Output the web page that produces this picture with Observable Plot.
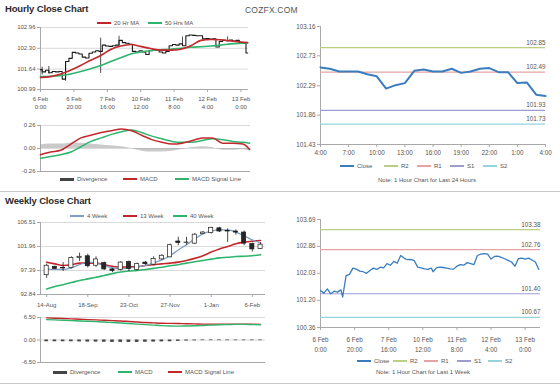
<!DOCTYPE html>
<html>
<head>
<meta charset="utf-8">
<script src="https://cdn.jsdelivr.net/npm/d3@7"></script>
<script src="https://cdn.jsdelivr.net/npm/@observablehq/plot@0.6"></script>
<style>
html,body{margin:0;padding:0;background:#fff;}
#root{position:relative;width:560px;height:385px;overflow:hidden;background:#fff;font-family:"Liberation Sans",Arial,sans-serif;}
.title{position:absolute;font-weight:bold;font-size:9.5px;letter-spacing:-0.15px;color:#2b2b2b;white-space:nowrap;line-height:12px;}
.leg{position:absolute;font-size:6px;color:#555;white-space:nowrap;line-height:8px;}
.note{position:absolute;font-size:6px;color:#555;white-space:nowrap;line-height:8px;transform:translateX(-50%);}
.sep{position:absolute;left:0;width:560px;height:1px;background:#c8c8c8;}
.brand{position:absolute;font-size:8.5px;color:#555;letter-spacing:0.2px;white-space:nowrap;line-height:10px;}
</style>
</head>
<body>
<div id="root">
  <div class="title" style="left:5px;top:3px">Hourly Close Chart</div>
  <div class="title" style="left:5px;top:195px">Weekly Close Chart</div>
  <div class="brand" style="left:245px;top:5px">COZFX.COM</div>
  <div class="sep" style="top:191px"></div>
  <div class="sep" style="top:383px"></div>
</div>
<script>
// ---------------- DATA ----------------
// Hourly chart (index = trading hour since 6 Feb 0:00)
const hrTicks = [0, 20, 40, 60, 80, 100, 120];
const hrTickLabels = ["6 Feb\n0:00", "6 Feb\n20:00", "7 Feb\n16:00", "10 Feb\n12:00", "11 Feb\n8:00", "12 Feb\n4:00", "13 Feb\n0:00"];
const hrPriceTicks = [102.96, 102.30, 101.64, 100.99];
const hrCloseStep = 2;
const hrClose = [101.62,101.55,101.60,101.52,101.56,101.55,101.56,101.32,101.88,101.98,102.17,102.15,102.12,102.02,101.99,102.14,102.18,102.22,102.20,102.40,102.37,102.36,102.38,102.40,102.55,102.48,102.46,102.43,102.20,102.18,102.22,102.18,102.10,102.22,102.26,102.24,102.18,102.15,102.20,102.38,102.42,102.40,102.44,102.38,102.70,102.72,102.71,102.70,102.70,102.60,102.61,102.59,102.60,102.34,102.52,102.55,102.54,102.56,102.53,102.55,102.48,102.45,102.15];
const hrSpikeIdx = [1, 5, 15, 36, 47, 85, 112];
const hrSpikeLow = [101.45, 101.48, 101.25, 101.50, 102.38, 102.36, 102.50];
const hrSpikeHigh = [101.70, 101.72, 101.85, 102.62, 102.68, 102.66, 102.66];
const hrMaIdx = [0,6,12,18,24,30,36,42,48,54,60,66,72,78,84,90,96,102,108,114,120,124];
const hrMa20 = [101.37,101.40,101.48,101.60,101.75,101.92,102.07,102.26,102.37,102.42,102.36,102.29,102.24,102.24,102.27,102.38,102.55,102.58,102.57,102.53,102.50,102.48];
const hrMa50 = [101.40,101.41,101.43,101.48,101.56,101.65,101.75,101.88,102.00,102.12,102.18,102.23,102.25,102.27,102.30,102.33,102.35,102.37,102.40,102.44,102.46,102.47];
const hrMacdTicks = [0.26, 0, -0.26];
const hrMacd = [-0.07,-0.04,-0.02,0.05,0.12,0.15,0.18,0.20,0.22,0.20,0.15,0.10,0.07,0.05,0.06,0.09,0.12,0.12,0.06,0.06,0.05,-0.01];
const hrSignal = [-0.11,-0.09,-0.07,-0.04,0.02,0.08,0.12,0.16,0.19,0.21,0.18,0.14,0.11,0.08,0.07,0.07,0.09,0.11,0.10,0.08,0.07,0.06];
const hrDiv = [0.04,0.05,0.05,0.06,0.06,0.05,0.04,0.03,0.02,0.00,-0.03,-0.04,-0.04,-0.03,-0.01,0.01,0.02,0.01,-0.02,-0.02,-0.01,-0.03];

// Last 24 hours
const h24Labels = ["4:00","7:00","10:00","13:00","16:00","19:00","22:00","1:00","4:00"];
const h24PriceTicks = [103.16, 102.73, 102.29, 101.86, 101.43];
const h24Close = [102.56,102.54,102.50,102.50,102.50,102.46,102.43,102.25,102.30,102.33,102.51,102.53,102.50,102.50,102.54,102.48,102.50,102.54,102.55,102.49,102.49,102.33,102.34,102.16,102.14];
const levelNames = ["R2", "R1", "S1", "S2"];
const levelColors = ["#bccd84", "#e6a3a3", "#9d9dd2", "#93d4de"];
const h24Levels = [102.85, 102.49, 101.93, 101.73];

// Last 1 week, hourly
const wkHrPriceTicks = [103.69, 102.86, 102.03, 101.20, 100.36];
const wkHrIdx = [0,2,4,6,8,10,12,13,15,17,19,21,23,25,27,29,31,33,35,37,39,41,43,45,47,49,51,53,55,57,59,61,63,65,66,68,70,72,74,76,78,80,82,84,86,88,90,92,94,96,98,100,102,104,106,108,110,112,114,116,118,120,122,124,126,128];
const wkHrClose = [101.50,101.42,101.55,101.40,101.48,101.45,101.52,101.30,101.96,102.00,102.19,102.16,102.10,102.08,102.03,102.12,102.19,102.15,102.22,102.20,102.33,102.28,102.40,102.34,102.58,102.50,102.45,102.46,102.42,102.22,102.20,102.17,102.15,102.19,102.08,102.20,102.22,102.21,102.19,102.17,102.16,102.25,102.30,102.28,102.36,102.33,102.30,102.58,102.62,102.64,102.62,102.47,102.55,102.56,102.52,102.48,102.43,102.38,102.25,102.48,102.50,102.47,102.50,102.44,102.38,102.15];
const wkHrLevels = [103.38, 102.76, 101.40, 100.67];

// Weekly chart (index = week since 14-Aug)
const wkTicks = [0, 5, 10, 15, 20, 25];
const wkTickLabels = ["14-Aug", "18-Sep", "23-Oct", "27-Nov", "1-Jan", "6-Feb"];
const wkPriceTicks = [106.51, 101.96, 97.39, 92.84];
const wkOpen  = [96.5,98.1,97.8,97.9,99.8,100.1,98.3,98.8,97.6,97.5,99.0,97.5,98.9,98.5,99.5,99.9,102.9,102.6,102.5,104.3,104.5,105.4,104.9,104.8,104.6,102.4,101.5];
const wkClose = [98.3,97.7,97.9,99.8,100.0,98.2,99.5,97.6,97.3,98.9,97.7,98.6,98.6,99.6,100.2,102.2,102.6,102.7,104.2,104.6,105.5,104.8,104.8,104.6,102.5,101.4,102.3];
const wkHigh  = [98.6,98.2,98.9,100.0,100.7,100.5,100.0,99.0,97.8,99.1,99.2,98.8,99.1,100.0,100.4,102.4,103.7,103.7,104.4,104.8,105.6,105.6,105.3,105.1,104.9,102.6,102.7];
const wkLow   = [95.9,97.6,97.2,97.7,99.1,97.9,98.0,97.4,97.0,97.3,97.2,97.3,98.4,98.3,99.4,99.8,102.1,102.2,102.3,104.2,104.3,104.6,102.7,104.1,102.1,100.9,101.4];
const wk4  = [97.71,97.6,97.6,97.9,98.5,98.98,98.8,98.35,97.9,97.7,97.9,98.03,98.35,98.8,99.4,100.2,101.3,102.3,103.4,104.36,104.87,105.1,105.1,104.7,104.0,103.2,102.6];
const wk13 = [98.98,98.66,98.35,98.5,98.8,98.8,98.8,98.5,98.2,98.03,98.1,98.1,98.35,98.5,98.66,98.8,98.98,99.3,99.7,100.2,100.9,101.5,101.96,102.46,102.78,102.97,103.1];
const wk40 = [93.9,94.35,94.7,95.1,95.5,95.8,96.1,96.45,96.8,97.1,97.3,97.4,97.6,97.8,98.0,98.3,98.5,98.8,99.05,99.3,99.55,99.8,99.9,100.05,100.1,100.2,100.4];
const wkMacdTicks = [6.5, 0, -6.5];
const wkMacd   = [5.9,5.8,5.7,5.6,5.5,5.4,5.3,5.2,5.05,4.9,4.75,4.6,4.45,4.3,4.15,4.05,4.0,4.05,4.1,4.2,4.3,4.4,4.45,4.5,4.5,4.45,4.4];
const wkSignal = [6.4,6.3,6.2,6.1,6.0,5.9,5.8,5.7,5.6,5.5,5.35,5.2,5.05,4.95,4.85,4.8,4.75,4.7,4.65,4.6,4.6,4.6,4.6,4.6,4.6,4.55,4.5];
const wkDiv    = [-0.5,-0.5,-0.5,-0.5,-0.55,-0.6,-0.6,-0.65,-0.7,-0.7,-0.7,-0.7,-0.65,-0.6,-0.55,-0.5,-0.4,-0.3,-0.25,-0.2,-0.2,-0.2,-0.2,-0.2,-0.2,-0.2,-0.2];

// ---------------- HELPERS ----------------
const root = document.getElementById("root");
const FONT = '"Liberation Sans", Arial, sans-serif';
const st = {fontFamily: FONT, fontSize: "6px", color: "#555", background: "transparent", overflow: "visible"};
const GRID = "#dadada", AXIS = "#a8a8a8";
const RED = "#c3272b", GREEN = "#2fb46e", BLUE4 = "#7f9fc6", CLOSEBLUE = "#3a7dbf";

function place(svg, left, top) {
  svg.style.position = "absolute";
  svg.style.left = left + "px";
  svg.style.top = top + "px";
  root.appendChild(svg);
}
function yAx(ticks, fmt, o = {}) {
  return Plot.axisY({ticks, tickFormat: fmt, tickSize: 3, tickPadding: 2, label: null, stroke: AXIS, fill: "#555", fontSize: 6, ...o});
}
function xAx(ticks, labels, o = {}) {
  const m = new Map(ticks.map((t, i) => [t, labels[i]]));
  return Plot.axisX({ticks, tickFormat: d => m.get(d), tickSize: 3, tickPadding: 3, label: null, stroke: AXIS, fill: "#555", fontSize: 6, ...o});
}
function legItem(x, y, color, label, thick) {
  const sw = document.createElement("div");
  const h = thick ? 3 : 1.5;
  sw.style.cssText = `position:absolute;left:${x}px;top:${y - h / 2}px;width:14px;height:${h}px;background:${color}`;
  root.appendChild(sw);
  const t = document.createElement("div");
  t.className = "leg";
  t.textContent = label;
  t.style.left = (x + 17) + "px";
  t.style.top = (y - 4) + "px";
  root.appendChild(t);
}
function note(cx, y, text) {
  const t = document.createElement("div");
  t.className = "note";
  t.textContent = text;
  t.style.left = cx + "px";
  t.style.top = (y - 4) + "px";
  root.appendChild(t);
}

// ---------------- TABLES ----------------
const hrCloseData = hrClose.map((v, k) => ({i: k * hrCloseStep, v}));
const hrSpikes = hrSpikeIdx.map((i, k) => ({i, lo: hrSpikeLow[k], hi: hrSpikeHigh[k]}));
const hrMa = hrMaIdx.map((i, k) => ({i, ma20: hrMa20[k], ma50: hrMa50[k], macd: hrMacd[k], sig: hrSignal[k], div: hrDiv[k]}));
const h24Data = h24Close.map((v, i) => ({i, v}));
const h24Lv = levelNames.map((n, k) => ({n, v: h24Levels[k], c: levelColors[k]}));
const wkHrData = wkHrIdx.map((i, k) => ({i, v: wkHrClose[k]}));
const wkHrLv = levelNames.map((n, k) => ({n, v: wkHrLevels[k], c: levelColors[k]}));
const wk = wkOpen.map((o, i) => ({i, o, c: wkClose[i], h: wkHigh[i], l: wkLow[i], m4: wk4[i], m13: wk13[i], m40: wk40[i], macd: wkMacd[i], sig: wkSignal[i], div: wkDiv[i]}));

// ---------------- P1: hourly price ----------------
const hrX = [0, 124.5];
place(Plot.plot({
  width: 262, height: 95, marginLeft: 40, marginRight: 14, marginTop: 7, marginBottom: 26,
  style: st,
  x: {domain: hrX, axis: null},
  y: {domain: [hrPriceTicks[3], hrPriceTicks[0]], axis: null},
  marks: [
    Plot.ruleY(hrPriceTicks.slice(0, 3), {stroke: GRID}),
    Plot.ruleY([hrPriceTicks[3]], {stroke: AXIS}),
    Plot.ruleX([hrX[0]], {stroke: AXIS}),
    yAx(hrPriceTicks, d => d.toFixed(2)),
    xAx(hrTicks, hrTickLabels, {lineHeight: 1.35}),
    Plot.ruleX(hrSpikes, {x: "i", y1: "lo", y2: "hi", stroke: "#222", strokeWidth: 0.8}),
    Plot.line(hrCloseData, {x: "i", y: "v", curve: "step", stroke: "#1a1a1a", strokeWidth: 1.1}),
    Plot.line(hrMa, {x: "i", y: "ma50", curve: "monotone-x", stroke: GREEN, strokeWidth: 1.6}),
    Plot.line(hrMa, {x: "i", y: "ma20", curve: "monotone-x", stroke: RED, strokeWidth: 1.6})
  ]
}), 0, 20);
legItem(97, 23, RED, "20 Hr MA");
legItem(148, 23, GREEN, "50 Hrs MA");

// ---------------- P2: hourly MACD ----------------
place(Plot.plot({
  width: 262, height: 60, marginLeft: 40, marginRight: 12, marginTop: 10, marginBottom: 4,
  style: st,
  x: {domain: hrX, axis: null},
  y: {domain: [hrMacdTicks[2], hrMacdTicks[0]], axis: null},
  marks: [
    Plot.ruleY(hrMacdTicks.slice(0, 2), {stroke: GRID}),
    Plot.ruleY([hrMacdTicks[2]], {stroke: AXIS}),
    Plot.ruleX([hrX[0]], {stroke: AXIS}),
    yAx(hrMacdTicks, d => d.toFixed(2)),
    Plot.areaY(hrMa, {x: "i", y: "div", curve: "monotone-x", fill: "#9e9e9e", fillOpacity: 0.55}),
    Plot.line(hrMa, {x: "i", y: "sig", curve: "monotone-x", stroke: GREEN, strokeWidth: 1.5}),
    Plot.line(hrMa, {x: "i", y: "macd", curve: "monotone-x", stroke: RED, strokeWidth: 1.5})
  ]
}), 0, 115);
legItem(60, 179, "#444", "Divergence", true);
legItem(123, 179, RED, "MACD");
legItem(175, 179, GREEN, "MACD Signal Line");

// ---------------- P3: last 24 hours ----------------
place(Plot.plot({
  width: 280, height: 148, marginLeft: 40, marginRight: 15, marginTop: 11, marginBottom: 19,
  style: st,
  color: {type: "identity"},
  x: {domain: [0, 24], axis: null},
  y: {domain: [h24PriceTicks[4], h24PriceTicks[0]], axis: null},
  marks: [
    Plot.ruleY([h24PriceTicks[4]], {stroke: AXIS}),
    Plot.ruleX([0], {stroke: AXIS}),
    yAx(h24PriceTicks, d => d.toFixed(2), {fontSize: 6.3}),
    xAx(d3.range(0, 25, 3), h24Labels, {fontSize: 6.3}),
    Plot.ruleY(h24Lv, {y: "v", stroke: "c", strokeWidth: 1.2}),
    Plot.text(h24Lv, {y: "v", text: d => d.v.toFixed(2), frameAnchor: "right", textAnchor: "end", dy: -5, fill: "#555", fontSize: 6.3}),
    Plot.line(h24Data, {x: "i", y: "v", stroke: CLOSEBLUE, strokeWidth: 2})
  ]
}), 280, 15);
legItem(340, 166, CLOSEBLUE, "Close");
legItem(384, 166, levelColors[0], "R2");
legItem(417, 166, levelColors[1], "R1");
legItem(450, 166, levelColors[2], "S1");
legItem(483, 166, levelColors[3], "S2");
note(427, 180, "Note: 1 Hour Chart for Last 24 Hours");

// ---------------- P4: last week hourly ----------------
const wkHrX = [0, 129];
place(Plot.plot({
  width: 280, height: 145, marginLeft: 40, marginRight: 20, marginTop: 9, marginBottom: 28,
  style: st,
  color: {type: "identity"},
  x: {domain: wkHrX, axis: null},
  y: {domain: [wkHrPriceTicks[4], wkHrPriceTicks[0]], axis: null},
  marks: [
    Plot.ruleY([wkHrPriceTicks[4]], {stroke: AXIS}),
    Plot.ruleX([wkHrX[0]], {stroke: AXIS}),
    yAx(wkHrPriceTicks, d => d.toFixed(2), {fontSize: 6.3}),
    xAx(hrTicks, hrTickLabels, {fontSize: 6.3, tickPadding: 5, lineHeight: 1.5}),
    Plot.ruleY(wkHrLv, {y: "v", stroke: "c", strokeWidth: 1.2}),
    Plot.text(wkHrLv, {y: "v", text: d => d.v.toFixed(2), frameAnchor: "right", textAnchor: "end", dy: -5, fill: "#555", fontSize: 6.3}),
    Plot.line(wkHrData, {x: "i", y: "v", stroke: CLOSEBLUE, strokeWidth: 1.3})
  ]
}), 280, 210);
legItem(357, 361, CLOSEBLUE, "Close");
legItem(393, 361, levelColors[0], "R2");
legItem(424, 361, levelColors[1], "R1");
legItem(457, 361, levelColors[2], "S1");
legItem(488, 361, levelColors[3], "S2");
note(423, 372, "Note: 1 Hour Chart for Last 1 Week");

// ---------------- P5: weekly price ----------------
const wkX = [-0.75, 26.6];
place(Plot.plot({
  width: 280, height: 95, marginLeft: 40, marginRight: 15, marginTop: 7, marginBottom: 16,
  style: st,
  color: {type: "identity"},
  x: {domain: wkX, axis: null},
  y: {domain: [wkPriceTicks[3], wkPriceTicks[0]], axis: null},
  marks: [
    Plot.ruleY(wkPriceTicks.slice(0, 3), {stroke: GRID}),
    Plot.ruleY([wkPriceTicks[3]], {stroke: AXIS}),
    Plot.ruleX([wkX[0]], {stroke: AXIS}),
    yAx(wkPriceTicks, d => d.toFixed(2)),
    xAx(wkTicks, wkTickLabels, {tickPadding: 5}),
    Plot.line(wk, {x: "i", y: "m40", curve: "monotone-x", stroke: GREEN, strokeWidth: 1.6}),
    Plot.line(wk, {x: "i", y: "m13", curve: "monotone-x", stroke: RED, strokeWidth: 1.6}),
    Plot.line(wk, {x: "i", y: "m4", curve: "monotone-x", stroke: BLUE4, strokeWidth: 1.3}),
    Plot.ruleX(wk, {x: "i", y1: "l", y2: "h", stroke: "#1a1a1a", strokeWidth: 0.8}),
    Plot.rect(wk, {x1: d => d.i - 0.25, x2: d => d.i + 0.25, y1: "o", y2: "c", fill: d => d.c >= d.o ? "#ffffff" : "#262626", stroke: "#1a1a1a", strokeWidth: 0.7})
  ]
}), 0, 215);
legItem(70, 216, BLUE4, "4 Week");
legItem(123, 216, RED, "13 Week");
legItem(173, 216, GREEN, "40 Week");

// ---------------- P6: weekly MACD ----------------
place(Plot.plot({
  width: 280, height: 57, marginLeft: 40, marginRight: 15, marginTop: 7, marginBottom: 5,
  style: st,
  x: {domain: wkX, axis: null},
  y: {domain: [wkMacdTicks[2], wkMacdTicks[0]], axis: null},
  marks: [
    Plot.ruleY(wkMacdTicks.slice(0, 2), {stroke: GRID}),
    Plot.ruleY([wkMacdTicks[2]], {stroke: AXIS}),
    Plot.ruleX([wkX[0]], {stroke: AXIS}),
    yAx(wkMacdTicks, d => d.toFixed(2)),
    Plot.rect(wk, {x1: d => d.i - 0.22, x2: d => d.i + 0.22, y1: 0, y2: "div", fill: "#444"}),
    Plot.line(wk, {x: "i", y: "sig", curve: "monotone-x", stroke: RED, strokeWidth: 1.4}),
    Plot.line(wk, {x: "i", y: "macd", curve: "monotone-x", stroke: GREEN, strokeWidth: 1.4})
  ]
}), 0, 310);
legItem(53, 372, "#444", "Divergence", true);
legItem(118, 372, GREEN, "MACD");
legItem(168, 372, RED, "MACD Signal Line");
</script>
</body>
</html>
